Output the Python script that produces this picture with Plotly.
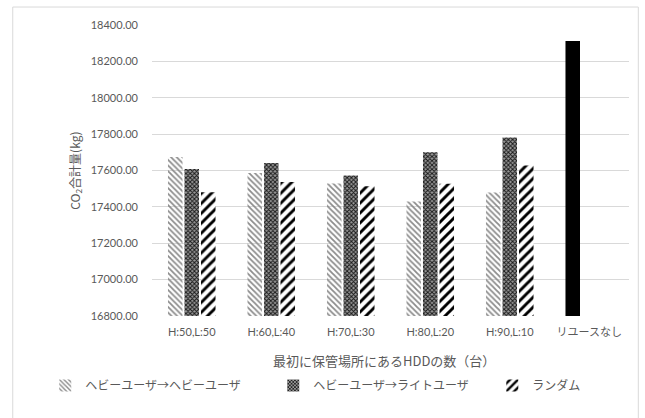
import plotly.graph_objects as go

categories = ["H:50,L:50", "H:60,L:40", "H:70,L:30", "H:80,L:20", "H:90,L:10", "リユースなし"]
series_names = ["ヘビーユーザ→ヘビーユーザ", "ヘビーユーザ→ライトユーザ", "ランダム"]
heavy_heavy = [17674, 17586, 17528, 17429, 17479, 18312]
heavy_light = [17608, 17641, 17572, 17701, 17782, None]
random_vals = [17480, 17537, 17513, 17527, 17628, None]
y_ticks = [16800, 17000, 17200, 17400, 17600, 17800, 18000, 18200, 18400]

W, H = 645, 418
L, R, T, B = 151.75, 16.3, 25, 101.5
pw, ph = W - L - R, H - T - B

def px_x(x):
    return (x - L) / pw

def px_y(y):
    return (H - B - y) / ph

n = len(categories)
fig = go.Figure()
fig.add_bar(
    x=categories, y=heavy_heavy, name=series_names[0], legend="legend",
    marker=dict(
        color=["#8c8c8c"] * (n - 1) + ["#000000"],
        line=dict(width=0),
        pattern=dict(shape=["\\"] * (n - 1) + [""], fgcolor=["#8a8a8a"] * (n - 1) + ["#000000"],
                     bgcolor=["#ffffff"] * (n - 1) + ["#000000"], size=4, solidity=0.45, fillmode="replace"),
    ),
)
fig.add_bar(
    x=categories, y=heavy_light, name=series_names[1], legend="legend2",
    marker=dict(
        color="#3a3a3a", line=dict(width=0),
        pattern=dict(shape="x", fgcolor="#1a1a1a", bgcolor="#9a9a9a", size=3, solidity=0.55, fillmode="replace"),
    ),
)
fig.add_bar(
    x=categories, y=random_vals, name=series_names[2], legend="legend3",
    marker=dict(
        color="#000000", line=dict(width=0),
        pattern=dict(shape="/", fgcolor="#000000", bgcolor="#ffffff", size=7, solidity=0.42, fillmode="replace"),
    ),
)

txt = "#595959"
legend_font = dict(size=12, family="'Noto Sans CJK JP', Lato, sans-serif", color=txt)

def leg(xpx):
    return dict(orientation="h", x=px_x(xpx), xanchor="left", y=px_y(386), yanchor="middle",
                font=legend_font, itemwidth=30, bgcolor="rgba(0,0,0,0)")

fig.update_layout(
    width=W, height=H,
    margin=dict(l=L, r=R, t=T, b=B),
    paper_bgcolor="white", plot_bgcolor="white",
    barmode="group", bargap=0.377, bargroupgap=0.12,
    font=dict(family="Lato, 'Noto Sans CJK JP', sans-serif", size=11, color=txt),
    showlegend=True,
    legend=leg(45), legend2=leg(273), legend3=leg(492),
    xaxis=dict(
        type="category", showgrid=False, showline=False, ticks="",
        tickfont=dict(size=11, color=txt), fixedrange=True, ticklabelstandoff=8,
    ),
    yaxis=dict(
        range=[16800, 18400], tickvals=y_ticks, tickformat=".2f",
        showgrid=True, gridcolor="#d9d9d9", gridwidth=1, zeroline=False, showline=False,
        ticks="", ticklabelstandoff=13, tickfont=dict(size=11, color=txt),
    ),
    shapes=[
        dict(type="rect", xref="paper", yref="paper",
             x0=px_x(12.5), x1=px_x(638), y0=px_y(7), y1=px_y(425),
             line=dict(color="#d9d9d9", width=1), fillcolor="rgba(0,0,0,0)", layer="below"),
    ],
    annotations=[
        dict(text="最初に保管場所にあるHDDの数（台）", xref="paper", yref="paper",
             x=px_x(384), y=px_y(361), xanchor="center", yanchor="middle", showarrow=False,
             font=dict(size=13, family="'Noto Sans CJK JP', sans-serif", color=txt)),
        dict(text="CO<sub>2</sub>合計量(kg)", xref="paper", yref="paper",
             x=px_x(75), y=0.5, xanchor="center", yanchor="middle", showarrow=False, textangle=-90,
             font=dict(size=12, family="'Noto Sans CJK JP', sans-serif", color=txt)),
    ],
)

fig.write_html("out.html")
